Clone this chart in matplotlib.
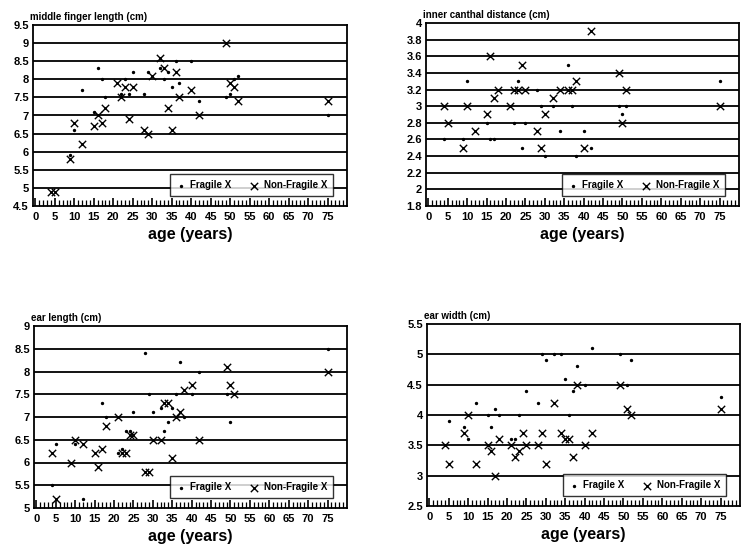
import matplotlib.pyplot as plt
import numpy as np

plt.rcParams['font.family'] = ['Liberation Sans', 'DejaVu Sans']
plt.rcParams['font.weight'] = 'bold'

# ---------------------------------
# Data
# ---------------------------------

# middle finger length
mf_fx_age = [9, 10, 12, 15, 16, 17, 18, 22, 23, 24, 25, 28, 29, 32, 33, 34, 35, 36, 37, 40, 42, 49, 50, 51, 52, 75]
mf_fx_val = [5.9, 6.6, 7.7, 7.1, 8.3, 8.0, 7.5, 7.6, 8.0, 7.6, 8.2, 7.6, 8.2, 8.3, 8.0, 8.2, 7.8, 8.5, 7.9, 8.5, 7.4, 7.5, 7.6, 8.0, 8.1, 7.0]
mf_nf_age = [4, 5, 9, 10, 12, 15, 16, 17, 18, 21, 22, 23, 24, 25, 28, 29, 30, 32, 33, 34, 35, 36, 37, 40, 42, 49, 50, 51, 52, 75]
mf_nf_val = [4.9, 4.9, 5.8, 6.8, 6.2, 6.7, 7.0, 6.8, 7.2, 7.9, 7.5, 7.8, 6.9, 7.8, 6.6, 6.5, 8.1, 8.6, 8.3, 7.2, 6.6, 8.2, 7.5, 7.7, 7.0, 9.0, 7.9, 7.8, 7.4, 7.4]

# inner canthal distance
ic_fx_age = [4, 9, 10, 15, 16, 17, 22, 23, 24, 25, 28, 29, 30, 32, 34, 36, 37, 38, 40, 42, 49, 50, 51, 75]
ic_fx_val = [2.6, 2.6, 3.3, 2.8, 2.6, 2.6, 2.8, 3.3, 2.5, 2.8, 3.2, 3.0, 2.4, 3.0, 2.7, 3.5, 3.0, 2.4, 2.7, 2.5, 3.0, 2.9, 3.0, 3.3]
ic_nf_age = [4, 5, 9, 10, 12, 15, 16, 17, 18, 21, 22, 23, 24, 25, 28, 29, 30, 32, 34, 36, 37, 38, 40, 42, 49, 50, 51, 75]
ic_nf_val = [3.0, 2.8, 2.5, 3.0, 2.7, 2.9, 3.6, 3.1, 3.2, 3.0, 3.2, 3.2, 3.5, 3.2, 2.7, 2.5, 2.9, 3.1, 3.2, 3.2, 3.2, 3.3, 2.5, 3.9, 3.4, 2.8, 3.2, 3.0]

# ear length
el_fx_age = [4, 5, 10, 12, 17, 18, 21, 22, 23, 24, 25, 28, 29, 30, 32, 33, 34, 35, 36, 37, 38, 40, 42, 49, 50, 75]
el_fx_val = [5.5, 6.4, 6.4, 5.2, 7.3, 7.0, 6.2, 6.3, 6.7, 6.7, 7.1, 8.4, 7.5, 7.1, 7.2, 6.7, 6.9, 7.2, 7.5, 8.2, 7.0, 7.5, 8.0, 7.5, 6.9, 8.5]
el_nf_age = [4, 5, 9, 10, 12, 15, 16, 17, 18, 21, 22, 23, 24, 25, 28, 29, 30, 32, 33, 34, 35, 36, 37, 38, 40, 42, 49, 50, 51, 75]
el_nf_val = [6.2, 5.2, 6.0, 6.5, 6.4, 6.2, 5.9, 6.3, 6.8, 7.0, 6.2, 6.2, 6.6, 6.6, 5.8, 5.8, 6.5, 6.5, 7.3, 7.3, 6.1, 7.0, 7.1, 7.6, 7.7, 6.5, 8.1, 7.7, 7.5, 8.0]

# ear width
ew_fx_age = [5, 9, 10, 12, 15, 16, 17, 18, 21, 22, 23, 25, 28, 29, 30, 32, 34, 35, 36, 37, 38, 40, 42, 49, 51, 52, 75]
ew_fx_val = [3.9, 3.8, 3.6, 4.2, 4.0, 3.8, 4.1, 4.0, 3.6, 3.6, 4.0, 4.4, 4.2, 5.0, 4.9, 5.0, 5.0, 4.6, 4.0, 4.4, 4.8, 4.5, 5.1, 5.0, 4.5, 4.9, 4.3]
ew_nf_age = [4, 5, 9, 10, 12, 15, 16, 17, 18, 21, 22, 23, 24, 25, 28, 29, 30, 32, 34, 35, 36, 37, 38, 40, 42, 49, 51, 52, 75]
ew_nf_val = [3.5, 3.2, 3.7, 4.0, 3.2, 3.5, 3.4, 3.0, 3.6, 3.5, 3.3, 3.4, 3.7, 3.5, 3.5, 3.7, 3.2, 4.2, 3.7, 3.6, 3.6, 3.3, 4.5, 3.5, 3.7, 4.5, 4.1, 4.0, 4.1]

panels = [
    ("middle finger length (cm)", mf_fx_age, mf_fx_val, mf_nf_age, mf_nf_val,
     (4.5, 9.5), np.arange(4.5, 9.51, 0.5), [33, 25, 347, 206]),
    ("inner canthal distance (cm)", ic_fx_age, ic_fx_val, ic_nf_age, ic_nf_val,
     (1.8, 4.0), np.arange(1.8, 4.01, 0.2), [426, 23, 739, 206]),
    ("ear length (cm)", el_fx_age, el_fx_val, el_nf_age, el_nf_val,
     (5.0, 9.0), np.arange(5.0, 9.01, 0.5), [34, 326, 347, 508]),
    ("ear width (cm)", ew_fx_age, ew_fx_val, ew_nf_age, ew_nf_val,
     (2.5, 5.5), np.arange(2.5, 5.51, 0.5), [427, 324, 740, 506]),
]

W, H = 754, 551
fig = plt.figure(figsize=(W / 100, H / 100), dpi=100)

for title, fa, fv, na, nv, ylim, yticks, box in panels:
    x0, y0, x1, y1 = box
    ax = fig.add_axes([x0 / W, 1 - y1 / H, (x1 - x0) / W, (y1 - y0) / H])
    for yt in yticks[1:-1]:
        ax.axhline(yt, color='black', lw=1.3, zorder=1)
    ax.scatter(fa, fv, marker='.', s=8, color='black', zorder=3, label='Fragile X')
    ax.scatter(na, nv, marker='x', s=28, color='black', linewidths=1.0, zorder=3,
               label='Non-Fragile X')
    ax.set_xlim(-0.6, 80)
    ax.set_ylim(*ylim)
    ax.set_yticks(yticks)
    ax.set_yticklabels([f"{v:g}" for v in yticks])
    ax.set_xticks(np.arange(0, 76, 5))
    ax.set_xticks(np.arange(0, 80, 1), minor=True)
    ax.tick_params(axis='x', which='major', direction='in', length=6, width=1.2,
                   labelsize=8, pad=4)
    ax.tick_params(axis='x', which='minor', direction='in', length=4, width=0.9)
    ax.tick_params(axis='y', length=0, labelsize=8, pad=3)
    for s in ax.spines.values():
        s.set_linewidth(1.3)
    ax.text(-0.01, 1.015, title, transform=ax.transAxes, fontsize=7,
            fontweight='bold', ha='left', va='bottom')
    ax.set_xlabel("age (years)", fontsize=11.5, fontweight='bold', labelpad=4)
    leg = ax.legend(loc='lower right', bbox_to_anchor=(0.955, 0.055), ncol=2,
                    fontsize=7, frameon=True, fancybox=False, edgecolor='black',
                    handletextpad=0.5, columnspacing=1.8, borderpad=0.6,
                    handlelength=1.0, borderaxespad=0.0)
    leg.get_frame().set_linewidth(1.0)

plt.savefig("out.png", dpi=100)
